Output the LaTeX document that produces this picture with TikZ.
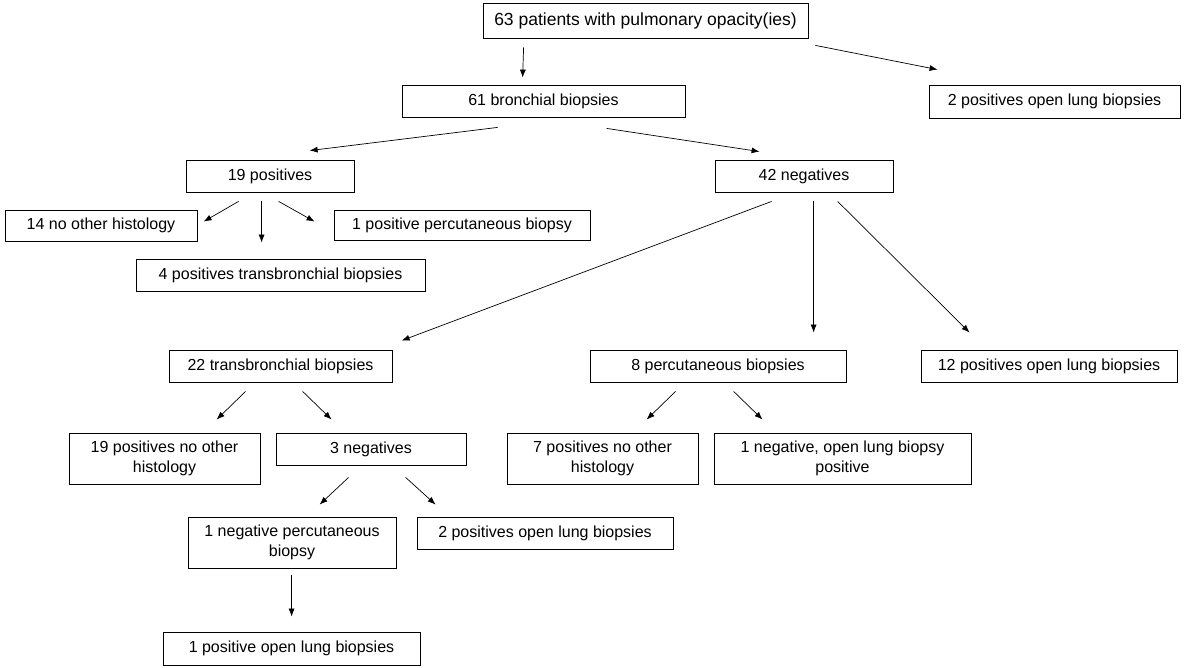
\documentclass[tikz,border=0pt]{standalone}
\usepackage{fontspec}
\setmainfont{Liberation Sans}
\usetikzlibrary{arrows.meta,calc}
\begin{document}
\begin{tikzpicture}[x=1pt,y=-1pt,
  box/.style={draw=black, line width=0.8pt, inner sep=0pt, align=center, font=\fontsize{16}{20}\selectfont, text=black},
  arr/.style={-{Latex[length=8pt,width=6pt]}, line width=0.7pt}]
\useasboundingbox (0,0) rectangle (1185,668);
% nodes: centre = corner + size/2
\node[box, minimum width=325pt, minimum height=35pt, font=\fontsize{17.5}{20}\selectfont] (top) at (645.5,20.5) {63 patients with pulmonary opacity(ies)};
\node[box, minimum width=283pt, minimum height=32pt] (b61) at (543.5,101) {61 bronchial biopsies};
\node[box, minimum width=251pt, minimum height=33pt] (r2) at (1054.5,101.5) {2 positives open lung biopsies};
\node[box, minimum width=168pt, minimum height=32pt] (p19) at (270,176) {19 positives};
\node[box, minimum width=178pt, minimum height=32pt] (n42) at (804,176) {42 negatives};
\node[box, minimum width=192pt, minimum height=31pt] (h14) at (101,225.5) {14 no other histology};
\node[box, minimum width=256pt, minimum height=30pt] (pc1) at (462,225) {1 positive percutaneous biopsy};
\node[box, minimum width=289pt, minimum height=32pt] (tb4) at (280.5,275) {4 positives transbronchial biopsies};
\node[box, minimum width=223pt, minimum height=32pt] (tb22) at (280.5,366) {22 transbronchial biopsies};
\node[box, minimum width=256pt, minimum height=32pt] (pc8) at (718,366) {8 percutaneous biopsies};
\node[box, minimum width=256pt, minimum height=32pt] (ol12) at (1049,366) {12 positives open lung biopsies};
\node[box, minimum width=191pt, minimum height=51pt] (p19b) at (164.5,458.5) {19 positives no other\\histology};
\node[box, minimum width=190pt, minimum height=32pt] (n3) at (371,449) {3 negatives};
\node[box, minimum width=191pt, minimum height=51pt] (p7) at (602.5,458.5) {7 positives no other\\histology};
\node[box, minimum width=257pt, minimum height=51pt] (n1ol) at (842.5,458.5) {1 negative, open lung biopsy\\positive};
\node[box, minimum width=208pt, minimum height=51pt] (n1pc) at (292,542.5) {1 negative percutaneous\\biopsy};
\node[box, minimum width=256pt, minimum height=32pt] (ol2) at (545,533) {2 positives open lung biopsies};
\node[box, minimum width=257pt, minimum height=33pt] (ol1) at (291.5,648.5) {1 positive open lung biopsies};
% connectors
\draw[arr] ($(top.south west)+(41,9)$) -- ($(b61.north west)+(121,-7)$);
\draw[arr] ($(top.south east)+(7,7)$) -- ($(r2.north west)+(9,-15)$);
\draw[arr] ($(b61.south west)+(96,10)$) -- ($(p19.north west)+(124,-9)$);
\draw[arr] ($(b61.south west)+(205,11)$) -- ($(n42.north west)+(45,-8)$);
\draw[arr] ($(p19.south west)+(53,9)$) -- ($(h14.north west)+(199,12)$);
\draw[arr] ($(p19.south west)+(76,9)$) -- ($(tb4.north west)+(126,-16)$);
\draw[arr] ($(p19.south west)+(93,9)$) -- ($(pc1.north west)+(-19,12)$);
\draw[arr] ($(n42.south west)+(57,9)$) -- ($(tb22.north west)+(233,-9)$);
\draw[arr] ($(n42.south west)+(99,9)$) -- ($(pc8.north west)+(224,-17)$);
\draw[arr] ($(n42.south west)+(123,9)$) -- ($(ol12.north west)+(49,-17)$);
\draw[arr] ($(tb22.south west)+(77,9)$) -- ($(p19b.north west)+(148,-13)$);
\draw[arr] ($(tb22.south west)+(134,9)$) -- ($(n3.north west)+(56,-13)$);
\draw[arr] ($(pc8.south west)+(86,9)$) -- ($(p7.north west)+(140,-13)$);
\draw[arr] ($(pc8.south west)+(144,9)$) -- ($(n1ol.north west)+(49,-13)$);
\draw[arr] ($(n3.south west)+(73,12)$) -- ($(n1pc.north west)+(132,-12)$);
\draw[arr] ($(n3.south west)+(130,12)$) -- ($(ol2.north west)+(19,-12)$);
\draw[arr] ($(n1pc.south west)+(104,7)$) -- ($(ol1.north west)+(129,-15)$);
\end{tikzpicture}
\end{document}
